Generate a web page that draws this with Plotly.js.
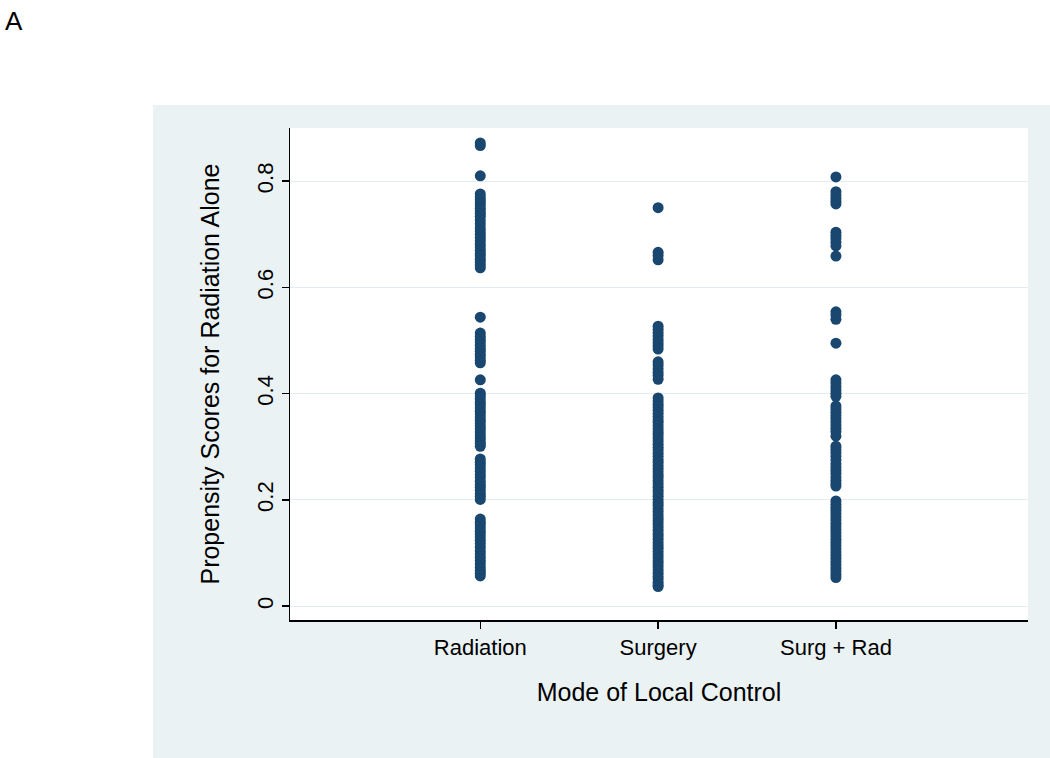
<!DOCTYPE html>
<html>
<head>
<meta charset="utf-8">
<script src="https://cdn.plot.ly/plotly-3.0.1.min.js"></script>
<style>html,body{margin:0;padding:0;background:#fff}</style>
</head>
<body>
<div id="chart" style="width:1050px;height:758px"></div>
<script>
// Categories (x positions 1,2,3)
const categories = ['Radiation', 'Surgery', 'Surg + Rad'];
const categoryPos = [1, 2, 3];

// Propensity scores
const radiation = [
  0.872, 0.867, 0.810,
  0.776, 0.770, 0.765, 0.760, 0.755, 0.749, 0.744, 0.739, 0.734, 0.727, 0.720, 0.712,
  0.706, 0.700, 0.694, 0.688, 0.681, 0.676, 0.670, 0.664, 0.659, 0.653, 0.648, 0.642, 0.637,
  0.544,
  0.514, 0.508, 0.502, 0.497, 0.491, 0.485, 0.480, 0.474, 0.469, 0.463, 0.458,
  0.426,
  0.401, 0.396, 0.390, 0.384, 0.379, 0.373, 0.367, 0.362, 0.356, 0.350, 0.345, 0.339,
  0.334, 0.328, 0.322, 0.317, 0.311, 0.306, 0.301,
  0.277, 0.271, 0.266, 0.260, 0.254, 0.248, 0.242, 0.235, 0.229, 0.224, 0.218, 0.212, 0.207, 0.201,
  0.164, 0.158, 0.153, 0.147, 0.141, 0.136, 0.130, 0.124, 0.118, 0.111, 0.104, 0.098,
  0.092, 0.086, 0.080, 0.073, 0.067, 0.062, 0.057
];

const surgery = [
  0.750, 0.666, 0.660, 0.652,
  0.527, 0.521, 0.515, 0.509, 0.502, 0.496, 0.490, 0.484,
  0.460, 0.454, 0.447, 0.440, 0.434, 0.427,
  0.392, 0.386, 0.380, 0.375, 0.369, 0.363, 0.357, 0.351, 0.346, 0.340, 0.334, 0.328,
  0.323, 0.317, 0.311, 0.305, 0.299, 0.294, 0.288, 0.282, 0.276, 0.271, 0.265, 0.259,
  0.253, 0.247, 0.242, 0.236, 0.230, 0.224, 0.218, 0.213, 0.207, 0.201, 0.195, 0.190,
  0.184, 0.178, 0.172, 0.166, 0.161, 0.155, 0.149, 0.143, 0.137, 0.132, 0.126, 0.120,
  0.114, 0.109, 0.103, 0.097, 0.091, 0.085, 0.080, 0.074, 0.068, 0.062, 0.056, 0.051,
  0.045, 0.040, 0.037
];

const surgRad = [
  0.808, 0.780, 0.774, 0.768, 0.762, 0.757,
  0.704, 0.698, 0.692, 0.685, 0.678, 0.659,
  0.554, 0.548, 0.540, 0.495,
  0.426, 0.420, 0.413, 0.407, 0.401, 0.395,
  0.377, 0.371, 0.365, 0.359, 0.353, 0.347, 0.341, 0.335, 0.329, 0.320,
  0.301, 0.295, 0.289, 0.282, 0.275, 0.268, 0.262, 0.256, 0.250, 0.243, 0.237, 0.231, 0.226,
  0.198, 0.192, 0.186, 0.180, 0.174, 0.168, 0.162, 0.156, 0.150, 0.144, 0.138, 0.132,
  0.126, 0.120, 0.114, 0.108, 0.102, 0.096, 0.090, 0.084, 0.078, 0.072, 0.066, 0.060, 0.054
];

const yTickVals = [0, 0.2, 0.4, 0.6, 0.8];
const yTickText = ['0', '0.2', '0.4', '0.6', '0.8'];

const series = [radiation, surgery, surgRad];
const FONT = 'Liberation Sans, Arial, sans-serif';
const NAVY = '#1a476f';

const traces = series.map((vals, i) => ({
  type: 'scatter',
  mode: 'markers',
  name: categories[i],
  x: vals.map(() => categoryPos[i]),
  y: vals,
  marker: { color: NAVY, size: 11, line: { width: 0 } },
  showlegend: false,
  hoverinfo: 'y'
}));

const layout = {
  width: 1050,
  height: 758,
  margin: { l: 290, r: 22, t: 128, b: 138, pad: 0 },
  paper_bgcolor: '#eaf2f3',
  plot_bgcolor: '#ffffff',
  font: { family: FONT, color: '#000000' },
  showlegend: false,
  xaxis: {
    range: [-0.07, 4.08],
    tickvals: categoryPos,
    ticktext: categories,
    showgrid: false,
    zeroline: false,
    showline: true,
    linecolor: '#000000',
    linewidth: 1.5,
    ticks: 'outside',
    ticklen: 7,
    tickwidth: 1.5,
    tickcolor: '#000000',
    tickfont: { family: FONT, size: 22, color: '#000000' },
    title: { text: 'Mode of Local Control', font: { family: FONT, size: 25, color: '#000000' }, standoff: 24 }
  },
  yaxis: {
    range: [-0.026, 0.9],
    tickvals: yTickVals,
    ticktext: yTickText,
    tickangle: -90,
    showgrid: true,
    gridcolor: '#e3edef',
    gridwidth: 1,
    zeroline: false,
    showline: true,
    linecolor: '#000000',
    linewidth: 1.5,
    ticks: 'outside',
    ticklen: 7,
    tickwidth: 1.5,
    tickcolor: '#000000',
    tickfont: { family: FONT, size: 22, color: '#000000' },
    title: { text: 'Propensity Scores for Radiation Alone', font: { family: FONT, size: 25, color: '#000000' }, standoff: 26 }
  },
  shapes: [
    // white strip at top (outside the grey graph region)
    { type: 'rect', xref: 'paper', yref: 'paper', x0: -0.5, x1: 1.1, y0: (620 - 105) / 492, y1: 1.3,
      fillcolor: '#ffffff', line: { width: 0 }, layer: 'below' },
    // white strip at left
    { type: 'rect', xref: 'paper', yref: 'paper', x0: -0.5, x1: (153 - 290) / 738, y0: -0.5, y1: 1.3,
      fillcolor: '#ffffff', line: { width: 0 }, layer: 'below' }
  ],
  annotations: [
    { text: 'A', xref: 'paper', yref: 'paper', x: (3 - 290) / 738, y: (620 - 4) / 492,
      xanchor: 'left', yanchor: 'top', showarrow: false,
      font: { family: FONT, size: 26, color: '#000000' } }
  ]
};

Plotly.newPlot('chart', traces, layout, { displayModeBar: false, staticPlot: true });
</script>
</body>
</html>
